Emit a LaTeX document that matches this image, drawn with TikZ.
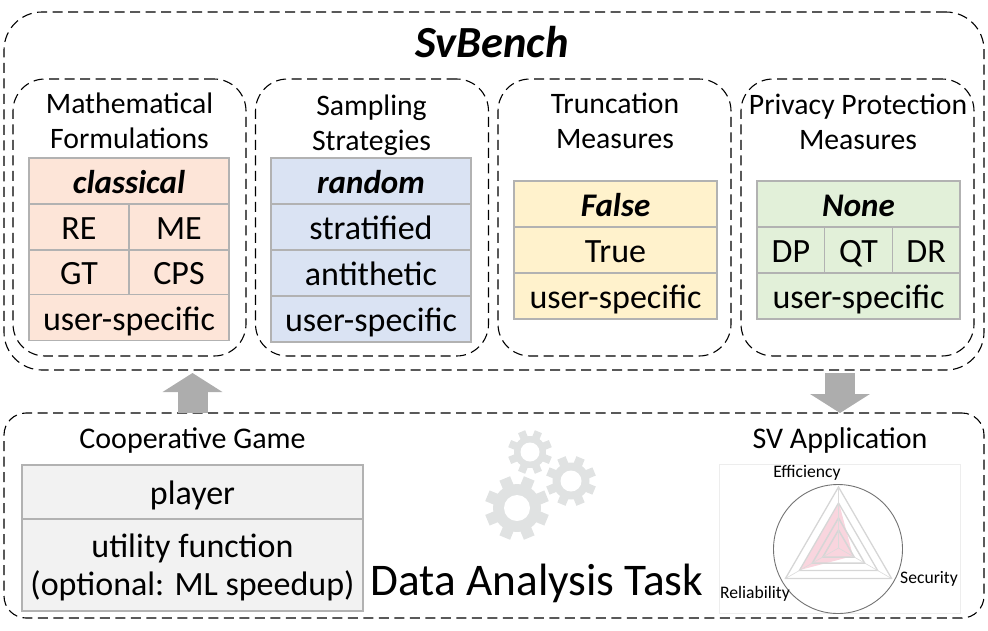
\documentclass[tikz,border=0pt]{standalone}
\usepackage{fontspec}
\setmainfont{Carlito}
\usetikzlibrary{positioning, calc, arrows.meta}

\definecolor{formcolor}{HTML}{FDE5D8}
\definecolor{samplecolor}{HTML}{DAE3F3}
\definecolor{trunccolor}{HTML}{FFF2CC}
\definecolor{privcolor}{HTML}{E2F0D9}
\definecolor{gamecolor}{HTML}{F2F2F2}
\definecolor{gearcolor}{HTML}{E0E2E2}
\definecolor{radarcolor}{HTML}{F9D5DE}

\newcommand{\gearshape}[5]{% x, y, body radius, tooth length, hole radius
    \foreach \a in {0,45,...,315} {
        \fill [gearcolor, rotate around={\a+22.5:(#1,#2)}] (#1-#3*0.24,#2) rectangle (#1+#3*0.24,#2-#3-#4);
    }
    \fill [gearcolor] (#1,#2) circle (#3);
    \fill [white] (#1,#2) circle (#5);
}

\begin{document}
\begin{tikzpicture}[
    x=1pt, y=-1pt,
    node distance=0pt,
    outerbox/.style={draw, dashed, dash pattern=on 10pt off 5.5pt, line width=1.1pt, rounded corners=38pt, minimum width=980pt, minimum height=358pt, outer sep=0pt},
    taskbox/.style={outerbox, rounded corners=22pt, minimum height=205pt},
    panel/.style={outerbox, rounded corners=32pt, minimum width=233pt, minimum height=277pt},
    cell/.style={rectangle, draw=black!30, line width=1.2pt, minimum width=200pt, minimum height=46pt, inner sep=0pt, outer sep=0pt, align=center, font=\fontsize{34}{38}\selectfont, text height=27pt, text depth=2pt},
    half/.style={cell, minimum width=100pt},
    third/.style={cell, minimum width=67.67pt},
    heading/.style={align=center, font=\fontsize{29.7}{35}\selectfont},
    radarlabel/.style={font=\fontsize{17.6}{20}\selectfont, inner sep=0pt},
    blockarrow/.style={draw=black!32, line width=30pt, -{Triangle[length=19pt, width=59pt, black!32]}}
]
\useasboundingbox (0,0) rectangle (988,630);

\node [outerbox] (svbench) at (494,191) {};
\node [taskbox] (task) at (494,515.5) {};
\node [font=\fontsize{44.5}{48}\bfseries\itshape\selectfont] (title) at (492,42) {SvBench};

% four option panels
\node [panel] (formpanel) at (129.5,217.5) {};
\node [panel] (samplepanel) at (372,217.5) {};
\node [panel] (truncpanel) at (614.5,217.5) {};
\node [panel] (privpanel) at (857.5,217.5) {};

\node [heading] (formhead) at (129.5,121) {Mathematical\\Formulations};
\node [heading] (samplehead) at (371.5,125) {Sampling\\Strategies};
\node [heading] (trunchead) at (615,121) {Truncation\\Measures};
\node [heading] (privhead) at (858,122) {Privacy Protection\\Measures};

% formulations
\node [cell, fill=formcolor, font=\fontsize{33}{38}\bfseries\itshape\selectfont] (classical) at (129,181) {classical};
\node [half, fill=formcolor, below=of classical.south west, anchor=north west] (re) {RE};
\node [half, fill=formcolor, right=of re] (me) {ME};
\node [half, fill=formcolor, below=of re, minimum height=44.5pt] (gt) {GT};
\node [half, fill=formcolor, right=of gt, minimum height=44.5pt] (cps) {CPS};
\node [cell, fill=formcolor, below=of gt.south west, anchor=north west] (formuser) {user-specific};

% sampling
\node [cell, fill=samplecolor, font=\fontsize{33}{38}\bfseries\itshape\selectfont] (random) at (371,181) {random};
\node [cell, fill=samplecolor, below=of random] (stratified) {stratified};
\node [cell, fill=samplecolor, below=of stratified] (antithetic) {antithetic};
\node [cell, fill=samplecolor, below=of antithetic] (sampleuser) {user-specific};

% truncation
\node [cell, fill=trunccolor, minimum width=203pt, font=\fontsize{33}{38}\bfseries\itshape\selectfont] (false) at (615.5,204) {False};
\node [cell, fill=trunccolor, minimum width=203pt, below=of false] (true) {True};
\node [cell, fill=trunccolor, minimum width=203pt, below=of true] (truncuser) {user-specific};

% privacy
\node [cell, fill=privcolor, minimum width=203pt, font=\fontsize{33}{38}\bfseries\itshape\selectfont] (none) at (858.5,204) {None};
\node [third, fill=privcolor, below=of none.south west, anchor=north west] (dp) {DP};
\node [third, fill=privcolor, right=of dp] (qt) {QT};
\node [third, fill=privcolor, right=of qt] (dr) {DR};
\node [cell, fill=privcolor, minimum width=203pt, below=of none, yshift=-46pt] (privuser) {user-specific};

% data analysis task
\node [heading, font=\fontsize{30}{32}\selectfont] (gamehead) at (192.5,441) {Cooperative Game};
\node [cell, fill=gamecolor, minimum width=341pt, minimum height=54pt] (player) at (192.5,492) {player};
\node [cell, fill=gamecolor, minimum width=341pt, minimum height=92pt, text height=, text depth=, below=of player] (utility) {};
\node [align=center, yshift=-2pt, font=\fontsize{34}{38}\selectfont] (utilitytext) at (utility) {utility function\\(optional: ML speedup)};
\node [font=\fontsize{45.3}{50}\selectfont] (tasklabel) at (537,583) {Data Analysis Task};
\node [heading, font=\fontsize{30}{32}\selectfont] (apphead) at (840,440) {SV Application};

\draw [blockarrow] (gamehead |- task.north) -- ([yshift=-3pt]gamehead |- svbench.south);
\draw [blockarrow] (apphead |- svbench.south) ++(0,3) -- (apphead |- task.north);

\gearshape{517}{508}{24}{8}{13}
\gearshape{571}{481}{18.5}{6.5}{10.5}
\gearshape{530}{452}{16}{6}{9.5}

% radar chart
\draw [black!7, line width=1pt] (719,464) rectangle (960,613);
\coordinate (center) at (838.5,548);
\fill [radarcolor] (839,503) -- (800,570) -- (853,556) -- cycle;
\foreach \r/\w in {61/1.3, 45/1.3, 30/1.5, 18/1.5} {
    \draw [black!16, line width=\w pt] ($(center)+(0,-\r)$) -- ($(center)+(0.87*\r,0.5*\r)$) -- ($(center)+(-0.87*\r,0.5*\r)$) -- cycle;
}
\draw [black!14, line width=0.6pt] (center) -- ++(0,-61) (center) -- ++(53,30.5) (center) -- ++(-53,30.5);
\draw [black!55, line width=0.9pt] (838,549) circle (64.5);
\node [radarlabel] (efficiency) at (807,473) {Efficiency};
\node [radarlabel] (security) at (929,579) {Security};
\node [radarlabel] (reliability) at (755,594) {Reliability};

\end{tikzpicture}
\end{document}
